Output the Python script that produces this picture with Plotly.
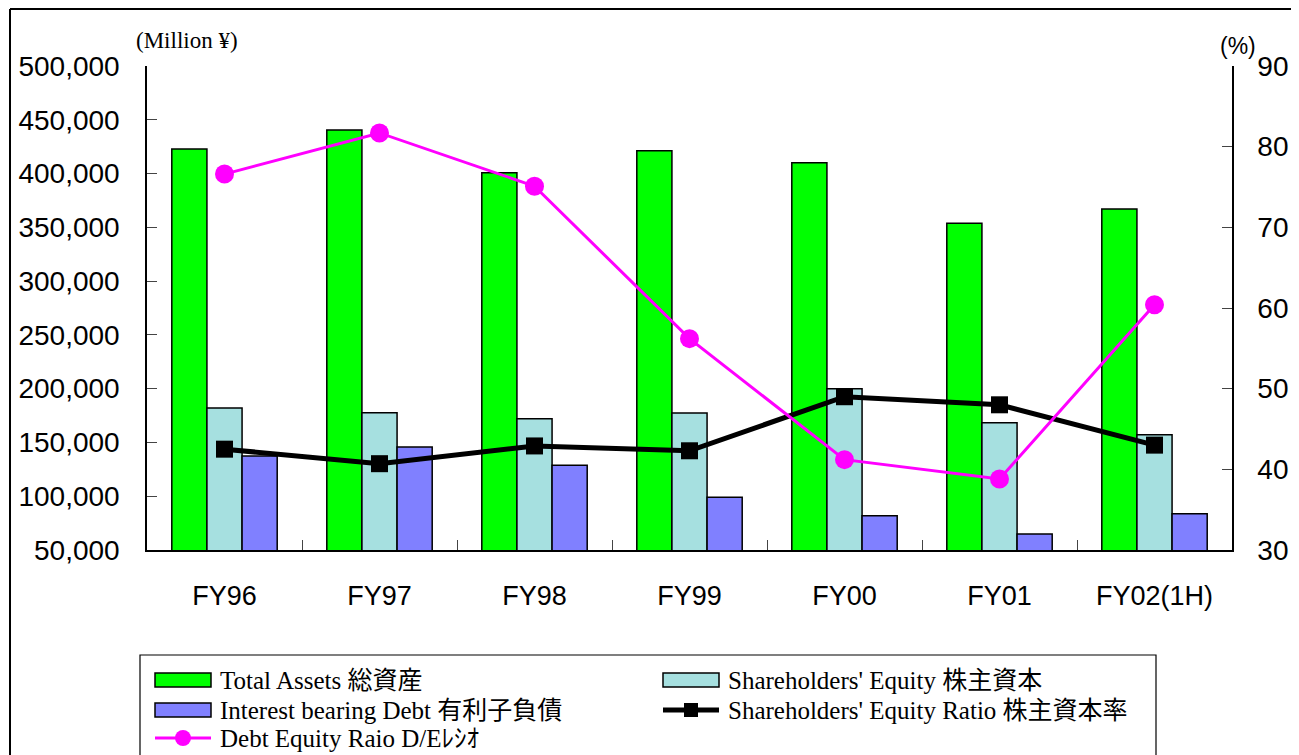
import plotly.graph_objects as go
from plotly.subplots import make_subplots

# ── Data ───────────────────────────────────────────────────────────────────
YEARS = ["FY96", "FY97", "FY98", "FY99", "FY00", "FY01", "FY02(1H)"]
TOTAL_ASSETS = [422800, 440500, 400800, 421200, 410100, 353700, 367000]
EQUITY = [182000, 177700, 172100, 177400, 200000, 168400, 157200]
DEBT = [137500, 145800, 128700, 99000, 81900, 64900, 83800]
EQUITY_RATIO = [42.5, 40.7, 42.9, 42.3, 49.0, 48.0, 43.0]
DE_RATIO = [76.6, 81.7, 75.1, 56.2, 41.2, 38.8, 60.4]

NAMES = [
    "Total Assets 総資産",
    "Shareholders' Equity 株主資本",
    "Interest bearing Debt 有利子負債",
    "Shareholders' Equity Ratio 株主資本率",
    "Debt Equity Raio D/Eﾚｼｵ",
]

GREEN, CYAN, BLUE, MAGENTA, BLACK = "#00FF00", "#A6E0E0", "#8080FF", "#FF00FF", "#000000"

# page is 1299x755; the html body adds an 8px margin, so the figure is 8px smaller
OFF = 8
W, H = 1299 - OFF, 755 - OFF
L, R, T, B = 147 - OFF, 67, 66 - OFF, 205

SANS = "Liberation Sans, Arial, sans-serif"
SERIF = "Liberation Serif, Noto Sans CJK JP, serif"


# page pixel -> paper coordinates
def px(x):
    return (x - OFF - L) / (W - L - R)


def py(y):
    return (H - B - (y - OFF)) / (H - T - B)


fig = make_subplots(specs=[[{"secondary_y": True}]])

bar_line = dict(color=BLACK, width=1.5)
for vals, col, name in [(TOTAL_ASSETS, GREEN, NAMES[0]),
                        (EQUITY, CYAN, NAMES[1]),
                        (DEBT, BLUE, NAMES[2])]:
    fig.add_trace(go.Bar(x=YEARS, y=vals, name=name, marker=dict(color=col, line=bar_line),
                         showlegend=False), secondary_y=False)

fig.add_trace(go.Scatter(x=YEARS, y=EQUITY_RATIO, name=NAMES[3], mode="lines+markers",
                         line=dict(color=BLACK, width=5),
                         marker=dict(symbol="square", size=17, color=BLACK),
                         showlegend=False), secondary_y=True)
fig.add_trace(go.Scatter(x=YEARS, y=DE_RATIO, name=NAMES[4], mode="lines+markers",
                         line=dict(color=MAGENTA, width=3),
                         marker=dict(symbol="circle", size=19, color=MAGENTA),
                         showlegend=False), secondary_y=True)

x_font = dict(family=SANS, size=27, color=BLACK)
y_font = dict(family=SANS, size=28, color=BLACK)
fig.update_xaxes(type="category", domain=[0, 1], showline=True, linecolor=BLACK, linewidth=1.5,
                 ticks="inside", tickson="boundaries", ticklen=10, tickcolor="#444",
                 tickfont=x_font, ticklabelstandoff=21, automargin=False,
                 showgrid=False, zeroline=False)
fig.update_yaxes(range=[50000, 500000], dtick=50000, tickformat=",", showline=True,
                 linecolor=BLACK, linewidth=1.5, ticks="inside", ticklen=10, tickcolor="#444",
                 tickfont=y_font, ticklabelstandoff=20, automargin=False,
                 showgrid=False, zeroline=False, secondary_y=False)
fig.update_yaxes(range=[30, 90], dtick=10, showline=True, linecolor=BLACK, linewidth=1.5,
                 ticks="inside", ticklen=10, tickcolor="#444",
                 tickfont=y_font, ticklabelstandoff=18, automargin=False,
                 showgrid=False, zeroline=False, secondary_y=True)

shapes = []
annotations = []

# outer frame (left and top edges visible in the reference)
shapes.append(dict(type="line", xref="paper", yref="paper", x0=px(10), x1=px(10),
                   y0=py(9), y1=py(770), line=dict(color=BLACK, width=2)))
shapes.append(dict(type="line", xref="paper", yref="paper", x0=px(10), x1=px(1310),
                   y0=py(9), y1=py(9), line=dict(color=BLACK, width=2)))

# legend box
shapes.append(dict(type="rect", xref="paper", yref="paper", x0=px(140), x1=px(1156),
                   y0=py(655), y1=py(770), line=dict(color=BLACK, width=1.2),
                   fillcolor="white"))

legend_items = [
    (0, 0, "bar", GREEN), (1, 0, "bar", CYAN), (0, 1, "bar", BLUE),
    (1, 1, "square", BLACK), (0, 2, "circle", MAGENTA),
]
col_x = [155, 663]
row_y = [680, 710, 738]
for idx, (c, r, kind, col) in enumerate(legend_items):
    x0, yc = col_x[c], row_y[r]
    x1 = x0 + 56
    if kind == "bar":
        shapes.append(dict(type="rect", xref="paper", yref="paper", x0=px(x0), x1=px(x1),
                           y0=py(yc - 7), y1=py(yc + 7), fillcolor=col,
                           line=dict(color=BLACK, width=1.5)))
    else:
        lw = 5 if kind == "square" else 3
        shapes.append(dict(type="line", xref="paper", yref="paper", x0=px(x0), x1=px(x1),
                           y0=py(yc), y1=py(yc), line=dict(color=col, width=lw)))
        xm = (x0 + x1) / 2
        s = 7 if kind == "square" else 8
        shapes.append(dict(type="rect" if kind == "square" else "circle",
                           xref="paper", yref="paper", x0=px(xm - s), x1=px(xm + s),
                           y0=py(yc - s), y1=py(yc + s), fillcolor=col, line=dict(width=0)))
    annotations.append(dict(xref="paper", yref="paper", x=px(x1 + 8), y=py(yc),
                            text=NAMES[idx], showarrow=False, xanchor="left", yanchor="middle",
                            borderpad=0, font=dict(family=SERIF, size=25, color=BLACK)))

annotations.append(dict(xref="paper", yref="paper", x=px(134), y=py(40), text="(Million ¥)",
                        showarrow=False, xanchor="left", yanchor="middle",
                        font=dict(family=SERIF, size=23, color=BLACK)))
annotations.append(dict(xref="paper", yref="paper", x=px(1238), y=py(46), text="(%)",
                        showarrow=False, xanchor="center", yanchor="middle",
                        font=dict(family=SANS, size=23, color=BLACK)))

fig.update_layout(
    width=W, height=H,
    margin=dict(l=L, r=R, t=T, b=B),
    paper_bgcolor="white", plot_bgcolor="white",
    barmode="group", bargap=0.32, bargroupgap=0,
    showlegend=False,
    shapes=shapes, annotations=annotations,
)

fig.write_html("out.html")
